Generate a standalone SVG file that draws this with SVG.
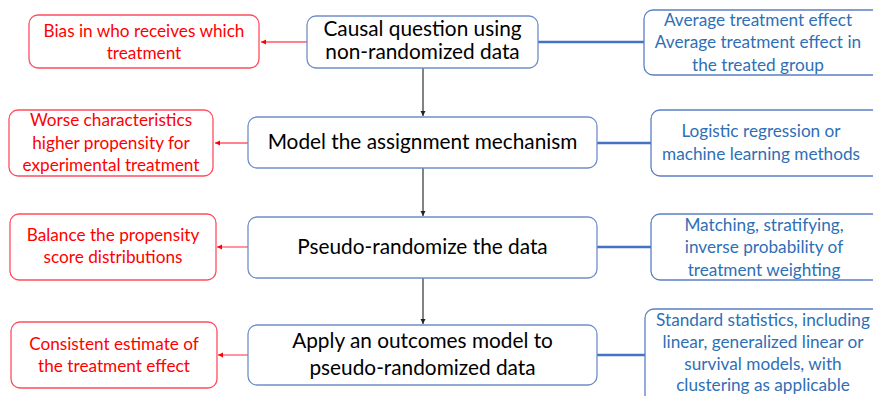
<svg xmlns="http://www.w3.org/2000/svg" width="873" height="396" viewBox="0 0 873 396">
<defs>
<style>
.red{fill:#fff;stroke:#ff4d5e;stroke-width:1.3}
.mid{fill:#fff;stroke:#6f8fc6;stroke-width:1.3}
.blu{fill:#fff;stroke:#5b7fc4;stroke-width:1.3}
.tr{font-family:Lato,"Liberation Sans",sans-serif;font-size:17.2px;fill:#ff0000;text-anchor:middle}
.tb{font-family:Lato,"Liberation Sans",sans-serif;font-size:17.2px;fill:#2e6fb6;text-anchor:middle}
.tk{font-family:Lato,"Liberation Sans",sans-serif;font-size:20.8px;fill:#000;text-anchor:middle}
.lr{stroke:#ff5a6a;stroke-width:1.3;fill:none}
.lb{stroke:#4472c4;stroke-width:2.5;fill:none}
.lk{stroke:#404040;stroke-width:1.3;fill:none}
</style>
<marker id="ar" markerWidth="6" markerHeight="6" refX="5" refY="3" orient="auto" markerUnits="userSpaceOnUse"><path d="M0,0.5 L5,3 L0,5.5 z" fill="#ff0000"/></marker>
<marker id="ak" markerWidth="6" markerHeight="6" refX="5" refY="3" orient="auto" markerUnits="userSpaceOnUse"><path d="M0,0.5 L5,3 L0,5.5 z" fill="#202020"/></marker>
</defs>
<g id="connectors">
<line class="lr" x1="307" y1="42" x2="261" y2="42" marker-end="url(#ar)"/>
<line class="lr" x1="248" y1="143" x2="215" y2="143" marker-end="url(#ar)"/>
<line class="lr" x1="248" y1="247" x2="217" y2="247" marker-end="url(#ar)"/>
<line class="lr" x1="248" y1="355" x2="218" y2="355" marker-end="url(#ar)"/>
<line class="lb" x1="538" y1="42" x2="644" y2="42"/>
<line class="lb" x1="597" y1="143" x2="651" y2="143"/>
<line class="lb" x1="597" y1="247" x2="651" y2="247"/>
<line class="lb" x1="597" y1="355" x2="645" y2="355"/>
<line class="lk" x1="423" y1="68" x2="423" y2="116" marker-end="url(#ak)"/>
<line class="lk" x1="423" y1="168" x2="423" y2="216" marker-end="url(#ak)"/>
<line class="lk" x1="423" y1="278" x2="423" y2="324" marker-end="url(#ak)"/>
</g>
<g id="n1"><rect class="mid" x="307" y="16" width="231" height="52" rx="9"/><text class="tk" x="422.5" y="36">Causal question using</text><text class="tk" x="422.5" y="59">non-randomized data</text></g>
<g id="n2"><rect class="mid" x="248" y="117" width="349" height="51" rx="9"/><text class="tk" x="422.5" y="149">Model the assignment mechanism</text></g>
<g id="n3"><rect class="mid" x="248" y="217" width="349" height="61" rx="9"/><text class="tk" x="422.5" y="254">Pseudo-randomize the data</text></g>
<g id="n4"><rect class="mid" x="248" y="325" width="349" height="60" rx="9"/><text class="tk" x="422.5" y="348">Apply an outcomes model to</text><text class="tk" x="422.5" y="375">pseudo-randomized data</text></g>
<g id="r1"><rect class="red" x="29" y="15" width="230" height="53" rx="9"/><text class="tr" x="144" y="37">Bias in who receives which</text><text class="tr" x="144" y="59">treatment</text></g>
<g id="r2"><rect class="red" x="9" y="110" width="204" height="66" rx="9"/><text class="tr" x="111" y="126">Worse characteristics</text><text class="tr" x="111" y="149">higher propensity for</text><text class="tr" x="111" y="171">experimental treatment</text></g>
<g id="r3"><rect class="red" x="10" y="214" width="206" height="66" rx="9"/><text class="tr" x="113" y="241">Balance the propensity</text><text class="tr" x="113" y="263">score distributions</text></g>
<g id="r4"><rect class="red" x="11" y="322" width="206" height="66" rx="9"/><text class="tr" x="114" y="350">Consistent estimate of</text><text class="tr" x="114" y="372">the treatment effect</text></g>
<g id="b1"><rect class="blu" x="644" y="10" width="240" height="65" rx="9"/><text class="tb" x="758" y="26">Average treatment effect</text><text class="tb" x="758" y="48">Average treatment effect in</text><text class="tb" x="758" y="71">the treated group</text></g>
<g id="b2"><rect class="blu" x="651" y="110" width="235" height="66" rx="9"/><text class="tb" x="761" y="137">Logistic regression or</text><text class="tb" x="761" y="160">machine learning methods</text></g>
<g id="b3"><rect class="blu" x="651" y="214" width="235" height="66" rx="9"/><text class="tb" x="764" y="231">Matching, stratifying,</text><text class="tb" x="764" y="253">inverse probability of</text><text class="tb" x="764" y="276">treatment weighting</text></g>
<g id="b4"><rect class="blu" x="645" y="309" width="240" height="100" rx="9"/><text class="tb" x="763" y="326">Standard statistics, including</text><text class="tb" x="763" y="348">linear, generalized linear or</text><text class="tb" x="763" y="370">survival models, with</text><text class="tb" x="763" y="391">clustering as applicable</text></g>
</svg>
